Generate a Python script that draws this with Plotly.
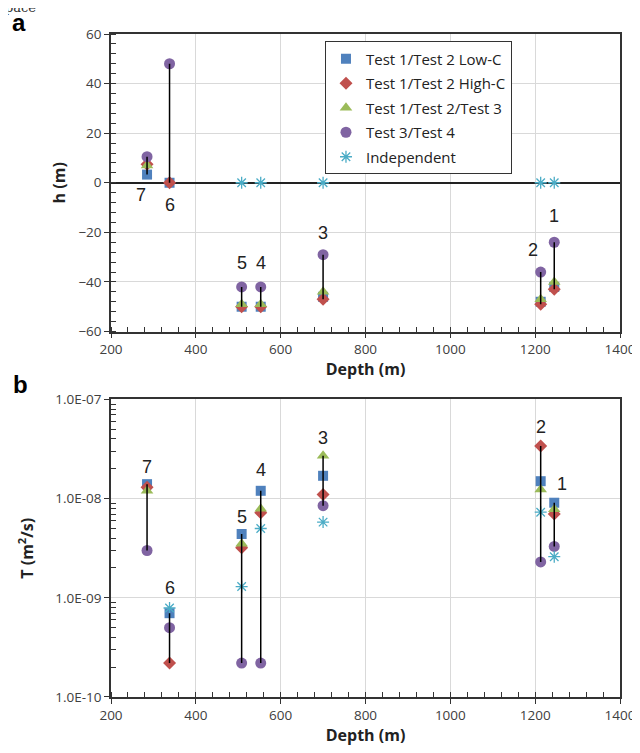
import math
import plotly.graph_objects as go
from plotly.subplots import make_subplots

# ---------------- data ----------------
locations = ["1", "2", "3", "4", "5", "6", "7"]
depth = [1245, 1213, 700, 553, 508, 338, 285]

series_names = ["Test 1/Test 2 Low-C", "Test 1/Test 2 High-C",
                "Test 1/Test 2/Test 3", "Test 3/Test 4", "Independent"]

low_c_h = [-42, -48, -46, -50, -50, 0, 3.3]
high_c_h = [-43, -49, -47, -50, -50, 0, 7.5]
t123_h = [-40, -47, -44, -49, -49, None, 7]
t34_h = [-24, -36, -29, -42, -42, 48, 10.5]
indep_h = [0, 0, 0, 0, 0, None, None]

low_c_T = [9.1e-9, 1.5e-8, 1.7e-8, 1.2e-8, 4.4e-9, 7.0e-10, 1.4e-8]
high_c_T = [7.0e-9, 3.4e-8, 1.1e-8, 7.2e-9, 3.2e-9, 2.2e-10, 1.3e-8]
t123_T = [7.8e-9, 1.24e-8, 2.7e-8, 7.9e-9, 3.5e-9, None, 1.2e-8]
t34_T = [3.3e-9, 2.3e-9, 8.5e-9, 2.2e-10, 2.2e-10, 5.0e-10, 3.0e-9]
indep_T = [2.6e-9, 7.3e-9, 5.8e-9, 5.0e-9, 1.3e-9, 7.9e-10, None]

T_tickvals = [1e-10, 1e-9, 1e-8, 1e-7]
T_ticktext = ["1.0E-10", "1.0E-09", "1.0E-08", "1.0E-07"]

# ---------------- style ----------------
colors = ["#4F81BD", "#C0504D", "#9BBB59", "#8064A2", "#4BACC6"]
symbols = ["square", "diamond", "triangle-up", "circle", "asterisk-open"]
sizes = [10, 10, 11, 11, 10]
FONT = "Open Sans, DejaVu Sans, sans-serif"
NUMFONT = "Liberation Sans, Arial, sans-serif"

fig = make_subplots(rows=2, cols=1, vertical_spacing=0.1025)

h_series = [low_c_h, high_c_h, t123_h, t34_h, indep_h]
T_series = [low_c_T, high_c_T, t123_T, t34_T, indep_T]


def add_panel(series, row, showlegend):
    for i, (name, vals) in enumerate(zip(series_names, series)):
        mk = dict(symbol=symbols[i], size=sizes[i], color=colors[i])
        if symbols[i].startswith("asterisk"):
            mk["line"] = dict(color=colors[i], width=1.3)
        fig.add_trace(go.Scatter(
            x=depth, y=vals, mode="markers", name=name, marker=mk,
            showlegend=showlegend, legendgroup=name, cliponaxis=False),
            row=row, col=1)
    # high-low lines over the four test series
    lx, ly = [], []
    for j, d in enumerate(depth):
        v = [s[j] for s in series[:4] if s[j] is not None]
        lx += [d, d, None]
        ly += [min(v), max(v), None]
    fig.add_trace(go.Scatter(x=lx, y=ly, mode="lines",
                             line=dict(color="black", width=1.5),
                             showlegend=False, hoverinfo="skip"),
                  row=row, col=1)


add_panel(h_series, 1, True)
add_panel(T_series, 2, False)

# location labels
top_shift = {"1": (0, 26, "max"), "2": (-8, 22, "max"), "3": (0, 22, "max"),
             "4": (0, 24, "max"), "5": (0, 24, "max"), "6": (0, -22, "min"),
             "7": (-6, -20, "min")}
bot_shift = {"1": (8, 19), "2": (0, 19), "3": (0, 18), "4": (0, 21),
             "5": (0, 17), "6": (0, 25), "7": (0, 17)}
for j, lab in enumerate(locations):
    vals = [s[j] for s in h_series[:4] if s[j] is not None]
    xs, ys, mode = top_shift[lab]
    yv = max(vals) if mode == "max" else min(vals)
    fig.add_annotation(x=depth[j], y=yv, text=lab, showarrow=False,
                       xshift=xs, yshift=ys, xref="x", yref="y",
                       font=dict(family=NUMFONT, size=18, color="#222"))
    valsT = [s[j] for s in T_series[:4] if s[j] is not None]
    xs, ys = bot_shift[lab]
    fig.add_annotation(x=depth[j], y=math.log10(max(valsT)), text=lab,
                       showarrow=False, xshift=xs, yshift=ys,
                       xref="x2", yref="y2",
                       font=dict(family=NUMFONT, size=18, color="#222"))

axis_common = dict(showline=True, linecolor="#333", linewidth=1.5, mirror=True,
                   gridcolor="#d9d9d9", gridwidth=1,
                   tickfont=dict(family=FONT, size=13.5, color="#404040"),
                   ticks="outside", ticklen=5, tickcolor="#333", tickwidth=1.2)

minor_x = dict(ticks="inside", ticklen=5, dtick=40, tickcolor="#333", showgrid=False)
xtitle = dict(text="<b>Depth (m)</b>", font=dict(family=FONT, size=16, color="#222"),
              standoff=0)

fig.update_xaxes(range=[200, 1400], dtick=200, minor=minor_x, title=xtitle,
                 **axis_common)
fig.update_yaxes(range=[-60, 60], dtick=20, row=1, col=1,
                 zeroline=True, zerolinecolor="#222", zerolinewidth=1.5,
                 minor=dict(ticks="inside", ticklen=5, dtick=4, tickcolor="#333",
                            showgrid=False),
                 title=dict(text="<b>h (m)</b>",
                            font=dict(family=FONT, size=16, color="#222"),
                            standoff=9),
                 **axis_common)
minor_log = []
for e in (-10, -9, -8):
    for m in range(2, 10):
        minor_log.append(m * 10 ** e)
fig.update_yaxes(type="log", range=[-10, -7], tickvals=T_tickvals,
                 ticktext=T_ticktext, row=2, col=1,
                 minor=dict(ticks="inside", ticklen=5, tickvals=minor_log,
                            tickcolor="#333", showgrid=False),
                 title=dict(text="<b>T (m<sup>2</sup>/s)</b>",
                            font=dict(family=FONT, size=16, color="#222"),
                            standoff=18),
                 **axis_common)

# panel letters and the clipped caption fragment at the top
fig.add_annotation(x=-0.181, y=1.018, xref="paper", yref="paper", text="<b>a</b>",
                   xanchor="center", yanchor="middle", showarrow=False,
                   font=dict(family=NUMFONT, size=24, color="black"))
fig.add_annotation(x=-0.177, y=0.472, xref="paper", yref="paper", text="<b>b</b>",
                   xanchor="center", yanchor="middle", showarrow=False,
                   font=dict(family=NUMFONT, size=24, color="black"))
fig.add_annotation(x=-0.178, y=1.04, xref="paper", yref="paper", text="pace",
                   xanchor="center", yanchor="middle", showarrow=False,
                   font=dict(family="DejaVu Serif, serif", size=13, color="#333"))

fig.update_layout(
    width=640, height=753,
    margin=dict(l=103, r=24, t=26, b=64),
    plot_bgcolor="white", paper_bgcolor="white",
    showlegend=True,
    legend=dict(x=0.42, y=0.989, xanchor="left", yanchor="top",
                bgcolor="white", bordercolor="#333", borderwidth=1.2,
                font=dict(family=FONT, size=15, color="#222"),
                tracegroupgap=2, itemwidth=30, entrywidth=178),
)

fig.write_html("out.html")
